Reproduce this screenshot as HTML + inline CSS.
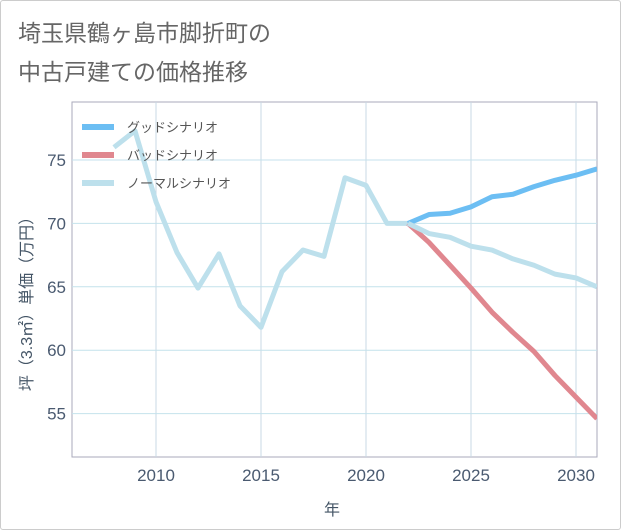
<!DOCTYPE html>
<html><head><meta charset="utf-8"><style>
body{margin:0;background:#fff;font-family:"Liberation Sans","Noto Sans CJK JP",sans-serif}
#wrap{position:relative;width:619px;height:528px;border:1px solid #ccc;border-radius:3px;background:#fff}
</style></head><body>
<div id="wrap">
<svg id="chart" width="621" height="530" style="position:absolute;left:-1px;top:-1px">
<text x="18" y="41" font-size="23" fill="#666">埼玉県鶴ヶ島市脚折町の</text>
<text x="18" y="80" font-size="23" fill="#666">中古戸建ての価格推移</text>
<g id="grid"></g><g id="series"></g><g id="legend"></g>
<text x="332" y="515" font-size="16" fill="#456" text-anchor="middle">年</text>
<text transform="translate(32,300) rotate(-90)" font-size="16" fill="#456" text-anchor="middle">坪（3.3㎡）単価（万円）</text>
</svg>
</div>
<script>
const years=[2008,2009,2010,2011,2012,2013,2014,2015,2016,2017,2018,2019,2020,2021,2022];
const normalHist=[76.0,77.3,71.7,67.7,64.9,67.6,63.5,61.8,66.2,67.9,67.4,73.6,73.0,70.0,70.0];
const futureYears=[2022,2023,2024,2025,2026,2027,2028,2029,2030,2031];
const good=[70.0,70.7,70.8,71.3,72.1,72.3,72.9,73.4,73.8,74.3];
const bad=[70.0,68.5,66.7,64.9,63.0,61.4,59.9,58.0,56.3,54.6];
const normal=[70.0,69.2,68.9,68.2,67.9,67.2,66.7,66.0,65.7,65.0];
const xTicks=[2010,2015,2020,2025,2030];
const yTicks=[55,60,65,70,75];
const legendLabels=['グッドシナリオ','バッドシナリオ','ノーマルシナリオ'];
const L=72,R=597,T=102,B=457;
const x=v=>L+(v-2006)/(2031-2006)*(R-L);
const y=v=>160+(75-v)*12.68;
const NS='http://www.w3.org/2000/svg';
function mk(t,a,p){const e=document.createElementNS(NS,t);for(const k in a)e.setAttribute(k,a[k]);p.appendChild(e);return e;}
const g=document.getElementById('grid');
const frame=mk('rect',{x:L,y:T,width:R-L,height:B-T,fill:'none',stroke:'#aab'},g);


xTicks.forEach(v=>{const l=mk('line',{x1:x(v),x2:x(v),y1:T,y2:B,stroke:'#c8d8e4'},g);


const t=mk('text',{x:x(v),y:481,'font-size':17,fill:'#4a5a70','text-anchor':'middle'},g);t.textContent=v;

});
yTicks.forEach(v=>{const l=mk('line',{x1:L,x2:R,y1:y(v),y2:y(v),stroke:'#c4e2ec'},g);


const t=mk('text',{x:66,y:y(v)+6,'font-size':17,fill:'#4a5a70','text-anchor':'end'},g);t.textContent=v;

});
const s=document.getElementById('series');
const clip=mk('clipPath',{id:'cp'},s);mk('rect',{x:L,y:T,width:R-L,height:B-T},clip);
function line(xs,vs,c,name){const p=mk('polyline',{points:xs.map((v,i)=>x(v)+','+y(vs[i])).join(' '),fill:'none',stroke:c,'stroke-width':5,'stroke-linejoin':'round','clip-path':'url(#cp)'},s);

}
line(years,normalHist,'#bde0ec','normal-history-line');
line(futureYears,bad,'#e0878f','bad-scenario-line');
line(futureYears,good,'#6cbef3','good-scenario-line');
line(futureYears,normal,'#bde0ec','normal-scenario-line');
const lg=document.getElementById('legend');const cols=['#6cbef3','#e0878f','#bde0ec'];
legendLabels.forEach((n,i)=>{const yy=127+i*28;
const r=mk('rect',{x:82,y:yy-3,width:32,height:6,fill:cols[i]},lg);


const t=mk('text',{x:127,y:yy+5,'font-size':13,fill:'#555'},lg);t.textContent=n;

});
</script>
</body></html>
